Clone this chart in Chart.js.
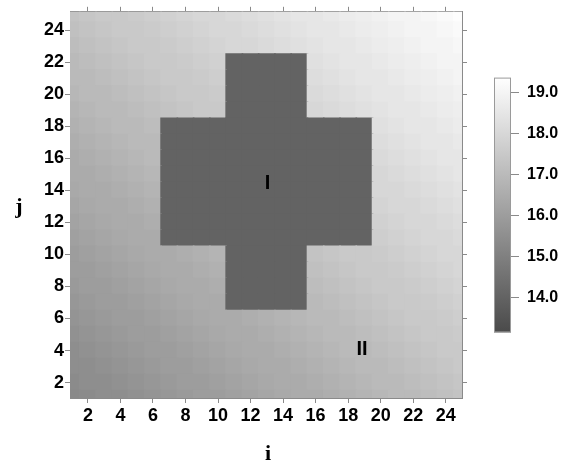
<!DOCTYPE html>
<html>
<head>
<meta charset="utf-8">
<script src="https://cdn.jsdelivr.net/npm/chart.js@4/dist/chart.umd.min.js"></script>
<style>
  body { margin: 0; background: #fff; }
  #wrap { position: relative; width: 567px; height: 461px; }
  #mapChart { position: absolute; left: 0; top: 0; }
  #barChart { position: absolute; left: 490px; top: 60px; }
</style>
</head>
<body>
<div id="wrap">
  <canvas id="mapChart" width="567" height="461"></canvas>
  <canvas id="barChart" width="77" height="290"></canvas>
</div>
<script>
// grid positions
const iValues = [1, 2, 3, 4, 5, 6, 7, 8, 9, 10, 11, 12, 13, 14, 15, 16, 17, 18, 19, 20, 21, 22, 23, 24, 25];
const jValues = [1, 2, 3, 4, 5, 6, 7, 8, 9, 10, 11, 12, 13, 14, 15, 16, 17, 18, 19, 20, 21, 22, 23, 24, 25];
const xTicks = [2, 4, 6, 8, 10, 12, 14, 16, 18, 20, 22, 24];
const yTicks = [2, 4, 6, 8, 10, 12, 14, 16, 18, 20, 22, 24];
const cbTicks = [14, 15, 16, 17, 18, 19];
const cbMin = 13.15, cbMax = 19.37;

// values, one row per j (j = 1 first), columns i = 1..25
const gridValues = [
  [15.3,15.4,15.5,15.5,15.6,15.7,15.8,15.9,16.0,16.0,16.1,16.2,16.3,16.4,16.5,16.5,16.6,16.7,16.8,16.9,17.0,17.0,17.1,17.2,17.3],
  [15.4,15.5,15.5,15.6,15.7,15.8,15.9,16.0,16.0,16.1,16.2,16.3,16.4,16.5,16.5,16.6,16.7,16.8,16.9,17.0,17.0,17.1,17.2,17.3,17.4],
  [15.5,15.5,15.6,15.7,15.8,15.9,16.0,16.0,16.1,16.2,16.3,16.4,16.5,16.5,16.6,16.7,16.8,16.9,17.0,17.0,17.1,17.2,17.3,17.4,17.5],
  [15.5,15.6,15.7,15.8,15.9,16.0,16.0,16.1,16.2,16.3,16.4,16.5,16.5,16.6,16.7,16.8,16.9,17.0,17.0,17.1,17.2,17.3,17.4,17.5,17.5],
  [15.6,15.7,15.8,15.9,16.0,16.0,16.1,16.2,16.3,16.4,16.5,16.5,16.6,16.7,16.8,16.9,17.0,17.0,17.1,17.2,17.3,17.4,17.5,17.5,17.6],
  [15.7,15.8,15.9,16.0,16.0,16.1,16.2,16.3,16.4,16.5,16.5,16.6,16.7,16.8,16.9,17.0,17.0,17.1,17.2,17.3,17.4,17.5,17.5,17.6,17.7],
  [15.8,15.9,16.0,16.0,16.1,16.2,16.3,16.4,16.5,16.5,14.0,14.0,14.0,14.0,14.0,17.0,17.1,17.2,17.3,17.4,17.5,17.5,17.6,17.7,17.8],
  [15.9,16.0,16.0,16.1,16.2,16.3,16.4,16.5,16.5,16.6,14.0,14.0,14.0,14.0,14.0,17.1,17.2,17.3,17.4,17.5,17.5,17.6,17.7,17.8,17.9],
  [16.0,16.0,16.1,16.2,16.3,16.4,16.5,16.5,16.6,16.7,14.0,14.0,14.0,14.0,14.0,17.2,17.3,17.4,17.5,17.5,17.6,17.7,17.8,17.9,18.0],
  [16.0,16.1,16.2,16.3,16.4,16.5,16.5,16.6,16.7,16.8,14.0,14.0,14.0,14.0,14.0,17.3,17.4,17.5,17.5,17.6,17.7,17.8,17.9,18.0,18.0],
  [16.1,16.2,16.3,16.4,16.5,16.5,14.0,14.0,14.0,14.0,14.0,14.0,14.0,14.0,14.0,14.0,14.0,14.0,14.0,17.7,17.8,17.9,18.0,18.0,18.1],
  [16.2,16.3,16.4,16.5,16.5,16.6,14.0,14.0,14.0,14.0,14.0,14.0,14.0,14.0,14.0,14.0,14.0,14.0,14.0,17.8,17.9,18.0,18.0,18.1,18.2],
  [16.3,16.4,16.5,16.5,16.6,16.7,14.0,14.0,14.0,14.0,14.0,14.0,14.0,14.0,14.0,14.0,14.0,14.0,14.0,17.9,18.0,18.0,18.1,18.2,18.3],
  [16.4,16.5,16.5,16.6,16.7,16.8,14.0,14.0,14.0,14.0,14.0,14.0,14.0,14.0,14.0,14.0,14.0,14.0,14.0,18.0,18.0,18.1,18.2,18.3,18.4],
  [16.5,16.5,16.6,16.7,16.8,16.9,14.0,14.0,14.0,14.0,14.0,14.0,14.0,14.0,14.0,14.0,14.0,14.0,14.0,18.0,18.1,18.2,18.3,18.4,18.5],
  [16.5,16.6,16.7,16.8,16.9,17.0,14.0,14.0,14.0,14.0,14.0,14.0,14.0,14.0,14.0,14.0,14.0,14.0,14.0,18.1,18.2,18.3,18.4,18.5,18.5],
  [16.6,16.7,16.8,16.9,17.0,17.0,14.0,14.0,14.0,14.0,14.0,14.0,14.0,14.0,14.0,14.0,14.0,14.0,14.0,18.2,18.3,18.4,18.5,18.5,18.6],
  [16.7,16.8,16.9,17.0,17.0,17.1,14.0,14.0,14.0,14.0,14.0,14.0,14.0,14.0,14.0,14.0,14.0,14.0,14.0,18.3,18.4,18.5,18.5,18.6,18.7],
  [16.8,16.9,17.0,17.0,17.1,17.2,17.3,17.4,17.5,17.5,14.0,14.0,14.0,14.0,14.0,18.0,18.1,18.2,18.3,18.4,18.5,18.5,18.6,18.7,18.8],
  [16.9,17.0,17.0,17.1,17.2,17.3,17.4,17.5,17.5,17.6,14.0,14.0,14.0,14.0,14.0,18.1,18.2,18.3,18.4,18.5,18.5,18.6,18.7,18.8,18.9],
  [17.0,17.0,17.1,17.2,17.3,17.4,17.5,17.5,17.6,17.7,14.0,14.0,14.0,14.0,14.0,18.2,18.3,18.4,18.5,18.5,18.6,18.7,18.8,18.9,19.0],
  [17.0,17.1,17.2,17.3,17.4,17.5,17.5,17.6,17.7,17.8,14.0,14.0,14.0,14.0,14.0,18.3,18.4,18.5,18.5,18.6,18.7,18.8,18.9,19.0,19.0],
  [17.1,17.2,17.3,17.4,17.5,17.5,17.6,17.7,17.8,17.9,18.0,18.0,18.1,18.2,18.3,18.4,18.5,18.5,18.6,18.7,18.8,18.9,19.0,19.0,19.1],
  [17.2,17.3,17.4,17.5,17.5,17.6,17.7,17.8,17.9,18.0,18.0,18.1,18.2,18.3,18.4,18.5,18.5,18.6,18.7,18.8,18.9,19.0,19.0,19.1,19.2],
  [17.3,17.4,17.5,17.5,17.6,17.7,17.8,17.9,18.0,18.0,18.1,18.2,18.3,18.4,18.5,18.5,18.6,18.7,18.8,18.9,19.0,19.0,19.1,19.2,19.3]
];

// region marks
const regionNames = ['I', 'II'];
const regionX = [13.05, 18.85];
const regionY = [14.4, 4.05];

const SANS = "'Liberation Sans', Arial, sans-serif";
const SERIF = "'Liberation Serif', 'Times New Roman', serif";

function grayOf(v) {
  let t = (v - cbMin) / (cbMax - cbMin);
  t = Math.max(0, Math.min(1, t));
  const g = Math.round(74 + t * 181);
  return 'rgb(' + g + ',' + g + ',' + g + ')';
}

const cellSets = jValues.map((j, r) => ({
  data: iValues.map(i => ({ x: i, y: [j - 0.5, j + 0.5] })),
  backgroundColor: gridValues[r].map(grayOf),
  borderWidth: 0,
  inflateAmount: 0.8,
  barPercentage: 1,
  categoryPercentage: 1,
  grouped: false,
  clip: 0
}));

function fixSize(prop, size) {
  return scale => { scale[prop] = size; };
}
function setTicks(list) {
  return scale => { scale.ticks = list.map(v => ({ value: v })); };
}

const edgeGrid = { drawOnChartArea: false, drawTicks: true, tickLength: 5, color: '#8a8a8a', offset: false };
const edgeBorder = { display: true, color: '#8a8a8a', width: 1 };

const textPlugin = {
  id: 'mapText',
  afterDraw(chart) {
    const { ctx, chartArea, scales } = chart;
    ctx.save();
    ctx.fillStyle = '#000';
    ctx.textAlign = 'center';
    ctx.textBaseline = 'middle';
    ctx.font = 'bold 20px ' + SANS;
    regionNames.forEach((name, k) => {
      ctx.fillText(name, scales.x.getPixelForValue(regionX[k]), scales.y.getPixelForValue(regionY[k]));
    });
    ctx.textBaseline = 'alphabetic';
    ctx.font = 'bold 22px ' + SERIF;
    ctx.fillText('i', (chartArea.left + chartArea.right) / 2 + 2, 460);
    ctx.fillText('j', 19, 213);
    ctx.restore();
  }
};

new Chart(document.getElementById('mapChart'), {
  type: 'bar',
  data: { datasets: cellSets },
  options: {
    responsive: false,
    animation: false,
    layout: { padding: 0 },
    plugins: { legend: { display: false }, tooltip: { enabled: false } },
    scales: {
      x: {
        type: 'linear', position: 'bottom', min: 0.9, max: 25.0, offset: false,
        afterBuildTicks: setTicks(xTicks), afterFit: fixSize('height', 63),
        grid: edgeGrid, border: edgeBorder,
        ticks: { color: '#000', padding: 2, maxRotation: 0, font: { family: SANS, size: 18, weight: 'bold' } }
      },
      y: {
        type: 'linear', position: 'left', min: 1.04, max: 25.14,
        afterBuildTicks: setTicks(yTicks), afterFit: fixSize('width', 70),
        grid: edgeGrid, border: edgeBorder,
        ticks: { color: '#000', padding: 1, font: { family: SANS, size: 18, weight: 'bold' } }
      },
      x2: {
        type: 'linear', position: 'top', min: 0.9, max: 25.0, offset: false,
        afterBuildTicks: setTicks(xTicks), afterFit: fixSize('height', 10),
        grid: edgeGrid, border: edgeBorder, ticks: { display: false }
      },
      y2: {
        type: 'linear', position: 'right', min: 1.04, max: 25.14,
        afterBuildTicks: setTicks(yTicks), afterFit: fixSize('width', 105),
        grid: edgeGrid, border: edgeBorder, ticks: { display: false }
      }
    }
  },
  plugins: [textPlugin]
});

// colour scale bar
const gradientPlugin = {
  id: 'cbFill',
  beforeDatasetsDraw(chart) {
    const { ctx, chartArea: a, scales } = chart;
    const y0 = scales.y.getPixelForValue(cbMin);
    const y1 = scales.y.getPixelForValue(cbMax);
    const grad = ctx.createLinearGradient(0, y0, 0, y1);
    grad.addColorStop(0, grayOf(cbMin));
    grad.addColorStop(1, grayOf(cbMax));
    ctx.save();
    ctx.fillStyle = grad;
    ctx.fillRect(a.left, a.top, a.right - a.left, a.bottom - a.top);
    ctx.strokeStyle = '#9a9a9a';
    ctx.lineWidth = 1;
    ctx.strokeRect(a.left + 0.5, a.top + 0.5, a.right - a.left - 1, a.bottom - a.top - 1);
    ctx.restore();
  }
};

new Chart(document.getElementById('barChart'), {
  type: 'bar',
  data: { labels: [''], datasets: [] },
  options: {
    responsive: false,
    animation: false,
    layout: { padding: { left: 4, top: 13, bottom: 17, right: 0 } },
    plugins: { legend: { display: false }, tooltip: { enabled: false } },
    scales: {
      x: { display: false },
      y: {
        type: 'linear', position: 'right', min: cbMin, max: cbMax,
        afterBuildTicks: setTicks(cbTicks), afterFit: fixSize('width', 56),
        grid: { drawOnChartArea: false, drawTicks: true, tickLength: 8, color: '#8a8a8a' },
        border: { display: false },
        ticks: {
          color: '#000', padding: 8,
          font: { family: SANS, size: 16, weight: 'bold' },
          callback: v => Number(v).toFixed(1)
        }
      }
    }
  },
  plugins: [gradientPlugin]
});
</script>
</body>
</html>
